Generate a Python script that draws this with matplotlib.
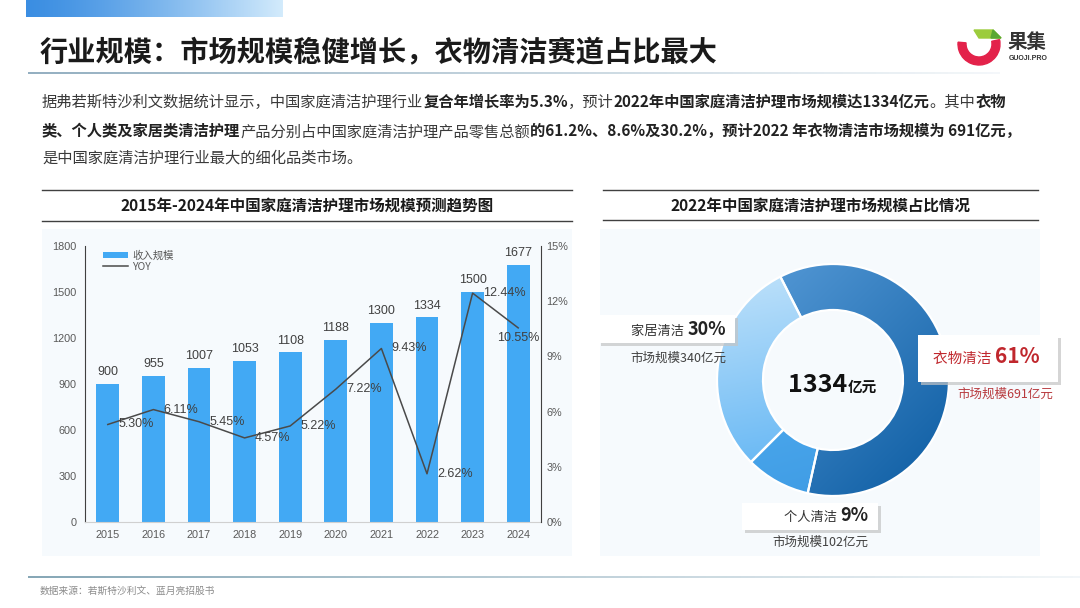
import numpy as np
import matplotlib
matplotlib.use('Agg')
import matplotlib.pyplot as plt
from matplotlib.colors import to_rgb
from matplotlib.patches import Rectangle, Wedge, Polygon
from matplotlib.collections import LineCollection

# 数据
years = ['2015', '2016', '2017', '2018', '2019', '2020', '2021', '2022', '2023', '2024']
revenue = [900, 955, 1007, 1053, 1108, 1188, 1300, 1334, 1500, 1677]
yoy = [5.30, 6.11, 5.45, 4.57, 5.22, 7.22, 9.43, 2.62, 12.44, 10.55]
seg_names = ['衣物清洁', '个人清洁', '家居清洁']
seg_share = [61, 9, 30]
seg_size = [691, 102, 340]
total = 1334

CJK = ['Noto Sans CJK SC', 'DejaVu Sans']
NUM = ['Liberation Sans', 'Noto Sans CJK SC']
plt.rcParams['font.family'] = CJK

W, H = 1080, 608
fig = plt.figure(figsize=(10.8, 6.08), dpi=100)
fig.patch.set_facecolor('white')


def fx(x):
    return x / W


def fy(y):
    return 1 - y / H


def blend(c0, c1, t):
    a, b = np.array(to_rgb(c0)), np.array(to_rgb(c1))
    return tuple(a * (1 - t) + b * t)


# 背景层
bg = fig.add_axes([0, 0, 1, 1], zorder=0)
grad = np.array([[blend('#3b8ee2', '#d3ebfc', t) for t in np.linspace(0, 1, 256) ** 1.3]])
bg.imshow(grad, extent=(26, 283, 17, 0), aspect='auto')
bg.add_patch(Rectangle((42, 229), 530, 327, color='#f6fafd', lw=0))
bg.add_patch(Rectangle((600, 229), 440, 327, color='#f6fafd', lw=0))
bg.set_xlim(0, W)
bg.set_ylim(H, 0)
bg.axis('off')

# 柱状图 + 折线
ax = fig.add_axes([fx(85), fy(522), (541 - 85) / W, (522 - 246) / H], zorder=1)
ax.patch.set_alpha(0)
x = np.arange(len(years))
bars = ax.bar(x, revenue, width=0.5, color='#42a9f4', label='收入规模')
ax.set_xlim(-0.5, 9.5)
ax.set_ylim(0, 1800)
ax.set_yticks(range(0, 1801, 300))
ax.set_xticks(x)
ax.set_xticklabels(years)
for i, v in enumerate(revenue):
    ax.annotate(str(v), (i, v), xytext=(0, 4), textcoords='offset points',
                ha='center', va='bottom', fontsize=9, color='#404040', family=NUM)

ax2 = ax.twinx()
line, = ax2.plot(x, yoy, color='#4a4a4a', lw=1.1, label='YOY')
ax2.set_ylim(0, 15)
ax2.set_yticks(range(0, 16, 3))
ax2.set_yticklabels([f'{t}%' for t in range(0, 16, 3)])
for i, v in enumerate(yoy):
    if i == len(yoy) - 1:
        ax2.annotate(f'{v:.2f}%', (i, v), xytext=(0, -3), textcoords='offset points',
                     ha='center', va='top', fontsize=9, color='#404040', family=NUM)
    else:
        ax2.annotate(f'{v:.2f}%', (i, v), xytext=(7.5, 0), textcoords='offset points',
                     ha='left', va='center', fontsize=9, color='#404040', family=NUM)

for a in (ax, ax2):
    a.spines['top'].set_visible(False)
    a.tick_params(length=0, labelsize=7.8, labelcolor='#595959')
    for lab in a.get_xticklabels() + a.get_yticklabels():
        lab.set_family(NUM)
ax.spines['right'].set_visible(False)
ax.spines['left'].set_color('#404040')
ax.spines['bottom'].set_color('#d0d0d0')
ax2.spines['left'].set_visible(False)
ax2.spines['bottom'].set_visible(False)
ax2.spines['right'].set_color('#404040')
ax.tick_params(axis='y', pad=6)
ax.tick_params(axis='x', pad=6)
ax2.tick_params(axis='y', pad=4)
ax.legend([bars, line], ['收入规模', 'YOY'], loc='upper left', bbox_to_anchor=(0.03, 1.0),
          frameon=False, prop={'family': CJK, 'size': 7.5}, labelcolor='#595959',
          handlelength=2.4, handleheight=0.5, labelspacing=0.1, borderaxespad=0,
          handletextpad=0.4)

# 环形图
dax = fig.add_axes([fx(833 - 150), fy(380 + 150), 300 / W, 300 / H], zorder=2)
wedges, _ = dax.pie(seg_share, radius=1.16, startangle=117, counterclock=False,
                    wedgeprops=dict(width=0.46, edgecolor='white', linewidth=1.6))
grads = [('#5da0dc', '#0a5aa0', (1, -1)),
         ('#5cb8f7', '#3b98e2', (0.3, -1)),
         ('#c6e5fb', '#4aaaf2', (0.2, -1))]
gx = np.linspace(-1.2, 1.2, 200)
GX, GY = np.meshgrid(gx, gx)
for w, (c0, c1, d) in zip(wedges, grads):
    t = GX * d[0] + GY * d[1]
    t = (t - t.min()) / (t.max() - t.min())
    img = np.array(to_rgb(c0)) * (1 - t[..., None]) + np.array(to_rgb(c1)) * t[..., None]
    im = dax.imshow(img, extent=(-1.2, 1.2, -1.2, 1.2), origin='lower', zorder=1,
                    interpolation='bilinear')
    im.set_clip_path(w)
    w.set_facecolor('none')
    w.set_zorder(2)
dax.set_xlim(-1.5, 1.5)
dax.set_ylim(-1.5, 1.5)
dax.axis('off')

# 文字层（像素坐标）
ov = fig.add_axes([0, 0, 1, 1], zorder=5)
ov.set_xlim(0, W)
ov.set_ylim(H, 0)
ov.axis('off')
renderer = fig.canvas.get_renderer()


def runs(x0, y, parts, ha='left'):
    # parts: (文本, 粗体, 字号, 颜色)
    arts = []
    for s, b, sz, c in parts:
        arts.append(ov.text(0, y, s, fontsize=sz, color=c, va='baseline', ha='left',
                            fontweight='bold' if b else 'normal'))
    widths = [a.get_window_extent(renderer).width for a in arts]
    cx = x0 - sum(widths) if ha == 'right' else x0
    for a, wd in zip(arts, widths):
        a.set_x(cx)
        cx += wd


def gline(x0, x1, y, c0, c1, lw):
    xs = np.linspace(x0, x1, 150)
    segs = [[(xs[i], y), (xs[i + 1], y)] for i in range(len(xs) - 1)]
    cols = [blend(c0, c1, i / (len(segs) - 1)) for i in range(len(segs))]
    ov.add_collection(LineCollection(segs, colors=cols, linewidths=lw))


def box(x0, y0, x1, y1):
    ov.add_patch(Rectangle((x0 + 3, y0 + 3), x1 - x0, y1 - y0, color='#c4c4c4', alpha=0.7, lw=0))
    ov.add_patch(Rectangle((x0, y0), x1 - x0, y1 - y0, color='white', lw=0))


# 标题
ov.text(40, 53, '行业规模：市场规模稳健增长，衣物清洁赛道占比最大', fontsize=20.3,
        fontweight='bold', color='#1a1a1a', va='center')
gline(28, 1000, 73, '#7fa0b5', '#f2f6f9', 1.2)

# logo
ov.add_patch(Wedge((979, 44), 21, -12, 185, width=8, color='#e3224a'))
ov.add_patch(Polygon([(974, 30), (993, 30), (1001, 38), (979, 38)], color='#9ccc3c'))
ov.add_patch(Polygon([(993, 30), (1001, 38), (991, 38)], color='#5aa832'))
ov.text(1008, 43, '果集', fontsize=14, fontweight='bold', color='#333333', va='center')
ov.text(1009, 59, 'GUOJI.PRO', fontsize=5, fontweight='bold', color='#333333',
        va='center', family=NUM)

# 正文
TXT = '#3a3a3a'
BTXT = '#222222'
fs = 11
runs(42, 107, [('据弗若斯特沙利文数据统计显示，中国家庭清洁护理行业', False, fs, TXT),
               ('复合年增长率为5.3%', True, fs, BTXT),
               ('，预计', False, fs, TXT),
               ('2022年中国家庭清洁护理市场规模达1334亿元', True, fs, BTXT),
               ('。其中', False, fs, TXT),
               ('衣物', True, fs, BTXT)])
runs(42, 136, [('类、个人类及家居类清洁护理', True, fs, BTXT),
               ('产品分别占中国家庭清洁护理产品零售总额', False, fs, TXT),
               ('的61.2%、8.6%及30.2%，预计2022 年衣物清洁市场规模为 691亿元，', True, fs, BTXT)])
runs(42, 163, [('是中国家庭清洁护理行业最大的细化品类市场。', False, fs, TXT)])

# 面板标题
for x0, x1, yt, yb, title in [(42, 572, 190, 221, '2015年-2024年中国家庭清洁护理市场规模预测趋势图'),
                              (603, 1038, 190, 220, '2022年中国家庭清洁护理市场规模占比情况')]:
    ov.plot([x0, x1], [yt, yt], color='#404040', lw=1)
    ov.plot([x0, x1], [yb, yb], color='#404040', lw=1)
    ov.text((x0 + x1) / 2, (yt + yb) / 2 + 1, title, fontsize=11.2, fontweight='bold',
            color='#1a1a1a', ha='center', va='center')

# 环形图中心与标注
runs(788, 392, [(str(total), True, 18, '#111111'), ('亿元', True, 10.5, '#111111')])

RED = '#c0272d'
box(598, 315, 735, 343)
runs(726, 335, [(seg_names[2] + ' ', False, 9.5, '#333333'),
                (f'{seg_share[2]}%', True, 13, '#222222')], ha='right')
runs(726, 362, [(f'市场规模{seg_size[2]}亿元', False, 9, '#404040')], ha='right')

box(918, 335, 1058, 382)
runs(933, 363, [(seg_names[0] + ' ', False, 10.5, RED),
                (f'{seg_share[0]}%', True, 15, RED)])
runs(1053, 398, [(f'市场规模{seg_size[0]}亿元', False, 9, '#b83a3e')], ha='right')

box(742, 503, 878, 530)
runs(868, 521, [(seg_names[1] + ' ', False, 9.5, '#333333'),
                (f'{seg_share[1]}%', True, 13, '#222222')], ha='right')
runs(868, 546, [(f'市场规模{seg_size[1]}亿元', False, 9, '#404040')], ha='right')

# 底部
gline(28, 1080, 577, '#6f96a8', '#f0f5f8', 1.2)
ov.text(40, 591, '数据来源：若斯特沙利文、蓝月亮招股书', fontsize=7, color='#8c8c8c', va='center')

fig.savefig('out.png', dpi=100)
